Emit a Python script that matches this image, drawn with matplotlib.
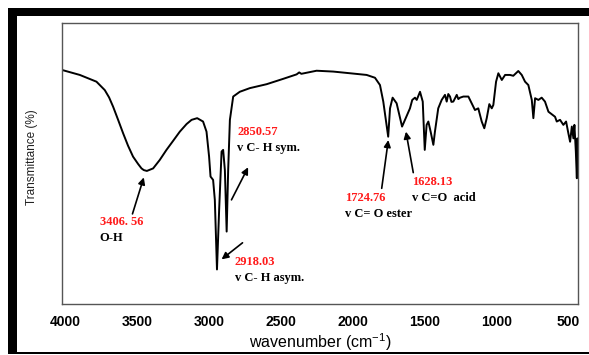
import matplotlib

matplotlib.use("Agg")
import matplotlib.pyplot as plt
from matplotlib.patches import Rectangle
from matplotlib.transforms import ScaledTranslation

# FTIR spectrum, wavenumber (cm-1) vs transmittance (arbitrary %)
wavenumber = [
    4000, 3874, 3758, 3700, 3670, 3642, 3607, 3572, 3538, 3503, 3468, 3444,
    3428, 3406.56, 3363, 3317, 3270, 3224, 3177, 3130, 3095, 3056, 3015, 2991,
    2973, 2963, 2945, 2933, 2918.03, 2903, 2886, 2875, 2863, 2850.57, 2840, 2828,
    2805, 2759, 2689, 2572, 2457, 2363, 2345, 2330, 2224, 2108, 1991, 1875,
    1817, 1782, 1759, 1724.76, 1712, 1694, 1666, 1628.13, 1573, 1557, 1538, 1526,
    1503, 1484, 1470, 1457, 1445, 1429, 1410, 1399, 1376, 1352, 1329, 1317,
    1306, 1294, 1284, 1271, 1247, 1236, 1224, 1201, 1166, 1143, 1120, 1097,
    1073, 1055, 1038, 1020, 1003, 992, 973, 957, 933, 910, 876, 853,
    818, 794, 771, 748, 724, 713, 701, 678, 655, 632, 608, 585,
    562, 550, 527, 504, 485, 469, 457, 445, 434, 427, 417, 410,
    406, 400,
]
transmittance = [
    83.4, 81.6, 79.2, 76.2, 73.6, 70.3, 65.6, 60.8, 56.4, 52.5, 49.9, 48.3,
    47.7, 47.4, 48.3, 51.3, 54.9, 58.1, 61.4, 64.1, 65.6, 66.2, 65.0, 61.4,
    52.5, 45.4, 44.2, 37.1, 12.3, 33.5, 54.3, 54.9, 47.7, 25.8, 47.7, 65.6,
    73.9, 75.6, 76.9, 78.3, 80.2, 81.8, 82.5, 82.0, 83.1, 82.8, 82.2, 81.6,
    80.6, 78.0, 72.1, 59.6, 69.7, 73.5, 71.5, 63.2, 69.7, 72.7, 73.5, 72.7,
    75.6, 72.1, 54.9, 63.8, 65.0, 61.4, 56.7, 61.4, 69.7, 72.7, 74.5, 72.1,
    74.8, 73.9, 72.0, 72.1, 74.5, 73.0, 73.5, 73.9, 73.9, 71.5, 69.1, 69.7,
    65.0, 62.6, 66.2, 71.2, 69.7, 70.9, 79.2, 82.2, 79.8, 81.6, 81.6, 81.3,
    83.0, 81.6, 79.2, 78.0, 72.7, 66.2, 73.3, 72.7, 73.5, 72.1, 68.5, 67.6,
    66.7, 65.0, 65.6, 63.8, 65.0, 60.8, 57.8, 63.2, 59.0, 63.8, 54.3, 44.8,
    59.0, 54.9,
]

xticks = [4000, 3500, 3000, 2500, 2000, 1500, 1000, 500]

# band assignments: value label, group name, label anchor, arrow tail, arrow head
peak_values = ["3406. 56", "2850.57", "2918.03", "1724.76", "1628.13"]
peak_names = ["O-H", "v C- H sym.", "v C- H asym.", "v C= O ester", "v C=O  acid"]
label_xy = [(3735, 29.3), (2777, 61.4), (2793, 15.1), (2026, 37.7), (1561, 43.6)]
arrow_tail = [(3507, 32.1), (2817, 37.1), (2740, 21.8), (1770, 41.2), (1550, 46.8)]
arrow_head = [(3428, 45.1), (2701, 48.7), (2886, 15.9), (1724, 58.4), (1601, 61.4)]

plt.rcParams["font.family"] = ["Liberation Sans", "DejaVu Sans"]
plt.rcParams["mathtext.fontset"] = "custom"
plt.rcParams["mathtext.rm"] = "Liberation Sans"

W, H = 589, 355
fig = plt.figure(figsize=(W / 100, H / 100), dpi=100)
fig.patch.set_facecolor("white")

# black frame around the figure (top, left, bottom)
for x0, y0, w, h in [
    (0.0141, 0.9549, 0.9859, 0.0217),
    (0.0141, 0.0028, 0.0143, 0.9738),
    (0.0141, 0.0028, 0.9859, 0.0065),
]:
    fig.patches.append(Rectangle((x0, y0), w, h, transform=fig.transFigure,
                                 facecolor="black", edgecolor="none"))

ax = fig.add_axes([0.1048, 0.1437, 0.8770, 0.7907])
ax.plot(wavenumber, transmittance, color="black", linewidth=1.4)

ax.set_xlim(4000, 400)
ax.set_ylim(0, 100)
ax.set_xticks(xticks)
ax.set_xticklabels([str(t) for t in xticks], fontsize=10, fontweight="bold")
ax.set_yticks([])
ax.tick_params(axis="x", length=0, pad=8)
shift = ScaledTranslation(4 / 100, 0, fig.dpi_scale_trans)
for lbl in ax.get_xticklabels():
    lbl.set_transform(lbl.get_transform() + shift)

for side in ["left", "right", "top", "bottom"]:
    ax.spines[side].set_color("#555555")
    ax.spines[side].set_linewidth(1.0)

# axis titles placed in figure pixels
fig.text(320 / W, 1 - 342 / H, r"wavenumber (cm$^{\mathregular{-1}}$)", fontsize=11.5,
         ha="center", va="center")
fig.text(32 / W, 1 - 157 / H, "Transmittance (%)", fontsize=8.5, color="#222222",
         rotation=90, ha="center", va="center")

serif = ["Liberation Serif", "DejaVu Serif"]
for val, name, (lx, ly), tail, head in zip(peak_values, peak_names, label_xy,
                                           arrow_tail, arrow_head):
    ax.text(lx, ly, val, color="#ff1a1a", fontsize=9, fontweight="bold",
            family=serif, ha="left", va="center")
    ax.text(lx, ly - 5.8, name, color="black", fontsize=9, fontweight="bold",
            family=serif, ha="left", va="center")
    ax.annotate("", xy=head, xytext=tail,
                arrowprops=dict(arrowstyle="-|>", color="black", lw=1.2,
                                mutation_scale=10, shrinkA=0, shrinkB=0))

fig.savefig("out.png", dpi=100, facecolor="white")
